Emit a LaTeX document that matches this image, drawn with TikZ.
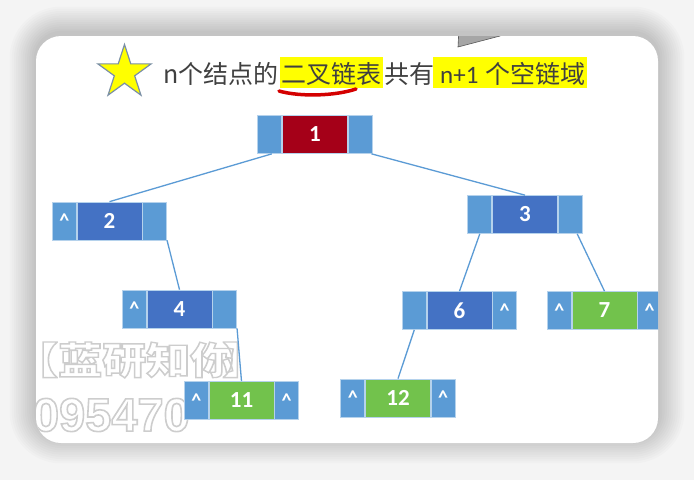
\documentclass[tikz,border=0pt]{standalone}
\usepackage{fontspec}
\setmainfont{Carlito}
\newfontfamily\cjk{Noto Sans CJK SC}
\newfontfamily\wmnum{Liberation Sans}
\usetikzlibrary{shapes.geometric,calc}
\definecolor{ptrc}{HTML}{5B9BD5}
\definecolor{datc}{HTML}{4472C4}
\definecolor{redc}{HTML}{A50018}
\definecolor{grnc}{HTML}{72C24C}
\definecolor{edgec}{HTML}{5B9BD5}
\definecolor{titc}{HTML}{404040}
\definecolor{hl}{HTML}{FFFF00}
\definecolor{ulred}{HTML}{D40000}
\definecolor{starline}{HTML}{7A8FA6}
\definecolor{wmgray}{HTML}{CDCDCD}
\definecolor{bgc}{HTML}{F4F4F4}
\definecolor{trig}{HTML}{A6A6A6}
\newcommand\lnode[7]{%
  \node[#4] (#1) at (#2,#3) {#5};
  \node[ptr, anchor=east] (#1l) at (#1.west) {#6};
  \node[ptr, anchor=west] (#1r) at (#1.east) {#7};}
\newcommand\hollow[1]{\special{pdf:code q 1 Tr 1.6 w}#1\special{pdf:code Q}}
\begin{document}
\begin{tikzpicture}[x=1pt,y=-1pt,
  ptr/.style={rectangle, fill=ptrc, draw=white!55!ptrc, line width=0.7pt,
    minimum width=24pt, minimum height=38pt, inner sep=0pt, text=white,
    font=\bfseries\fontsize{20}{20}\selectfont},
  dat/.style={rectangle, draw=white!55!ptrc, line width=0.7pt,
    minimum width=65pt, minimum height=38pt, inner sep=0pt, text=white,
    font=\bfseries\fontsize{23}{23}\selectfont},
  bluedat/.style={dat, fill=datc},
  reddat/.style={dat, fill=redc},
  grndat/.style={dat, fill=grnc},
  link/.style={draw=edgec, line width=1.3pt},
  titletext/.style={anchor=base west, inner sep=0pt, text=titc,
    font=\cjk\fontsize{25}{25}\selectfont},
  wm/.style={inner sep=0pt, text=wmgray, font=\cjk\bfseries\fontsize{44}{44}\selectfont, yscale=0.85},
  wmd/.style={inner sep=0pt, text=wmgray, font=\wmnum\bfseries\fontsize{47}{47}\selectfont},
]
\useasboundingbox (0,0) rectangle (694,480);
\fill[bgc] (0,0) rectangle (694,480);
% shadow
\foreach \i [evaluate=\i as \rr using 25+2.2*\i] in {1,...,12}{
  \fill[black, opacity=0.016, rounded corners=\rr pt]
    ({36-2.2*\i},{36-2.2*\i-3}) rectangle ({658+2.2*\i},{443+2.2*\i-6});
}
\fill[white, rounded corners=25pt] (36,36) rectangle (658,443);
\begin{scope}
\clip[rounded corners=25pt] (36,36) rectangle (658,443);
% gray triangle
\filldraw[fill=trig, draw=gray!70!black, line width=0.6pt] (458,47) -- (459,28) -- (500,28) -- (500,36) -- cycle;
% watermark
\node[wm, anchor=west] (wm) at (14,360) {\hollow{【蓝研知你\hspace{-12pt}】}};
\node[wmd, anchor=east] (wd) at (190,415) {\hollow{095470}};
% title
\fill[hl] (280,57) rectangle (383,88);
\fill[hl] (433,57) rectangle (587,88);
\node[star, star points=5, star point ratio=2.618, minimum size=56pt, inner sep=0pt,
  fill=hl, draw=starline, line width=1.2pt] (star) at (124.5,72.5) {};
\node[titletext] (t1) at (163,83) {n个结点的};
\node[titletext] (t2) at (281,83) {二叉链表};
\node[titletext] (t3) at (384,83) {共有};
\node[titletext, font=\fontsize{25}{25}\selectfont] (t4) at (440,83) {n+1};
\node[titletext] (t5) at (485,83) {个空链域};
\draw[ulred, line width=3.5pt, line cap=round] (279,91) .. controls (300,97) and (335,96) .. (356,89);
% list nodes
\lnode{n1}{315}{134.5}{reddat}{1}{}{}
\lnode{n2}{109.5}{221}{bluedat}{2}{\textasciicircum}{}
\lnode{n3}{525}{214.5}{bluedat}{3}{}{}
\lnode{n4}{179.5}{309}{bluedat}{4}{\textasciicircum}{}
\lnode{n6}{459.5}{310.5}{bluedat}{6}{}{\textasciicircum}
\lnode{n7}{604.5}{310.5}{grndat}{7}{\textasciicircum}{\textasciicircum}
\lnode{n11}{241.5}{400.5}{grndat}{11}{\textasciicircum}{\textasciicircum}
\lnode{n12}{398}{398}{grndat}{12}{\textasciicircum}{\textasciicircum}
% links
\draw[link] ([xshift=2pt]n1l.south) -- (n2.north);
\draw[link] ([xshift=-1pt]n1r.south east) -- (n3.north);
\draw[link] (n2r.south east) -- (n4.north);
\draw[link] (n4r.south east) -- (n11.north);
\draw[link] (n3l.south) -- (n6.north);
\draw[link] ([xshift=7pt]n3r.south) -- (n7.north);
\draw[link] (n6l.south) -- (n12.north);
\end{scope}
\end{tikzpicture}
\end{document}
